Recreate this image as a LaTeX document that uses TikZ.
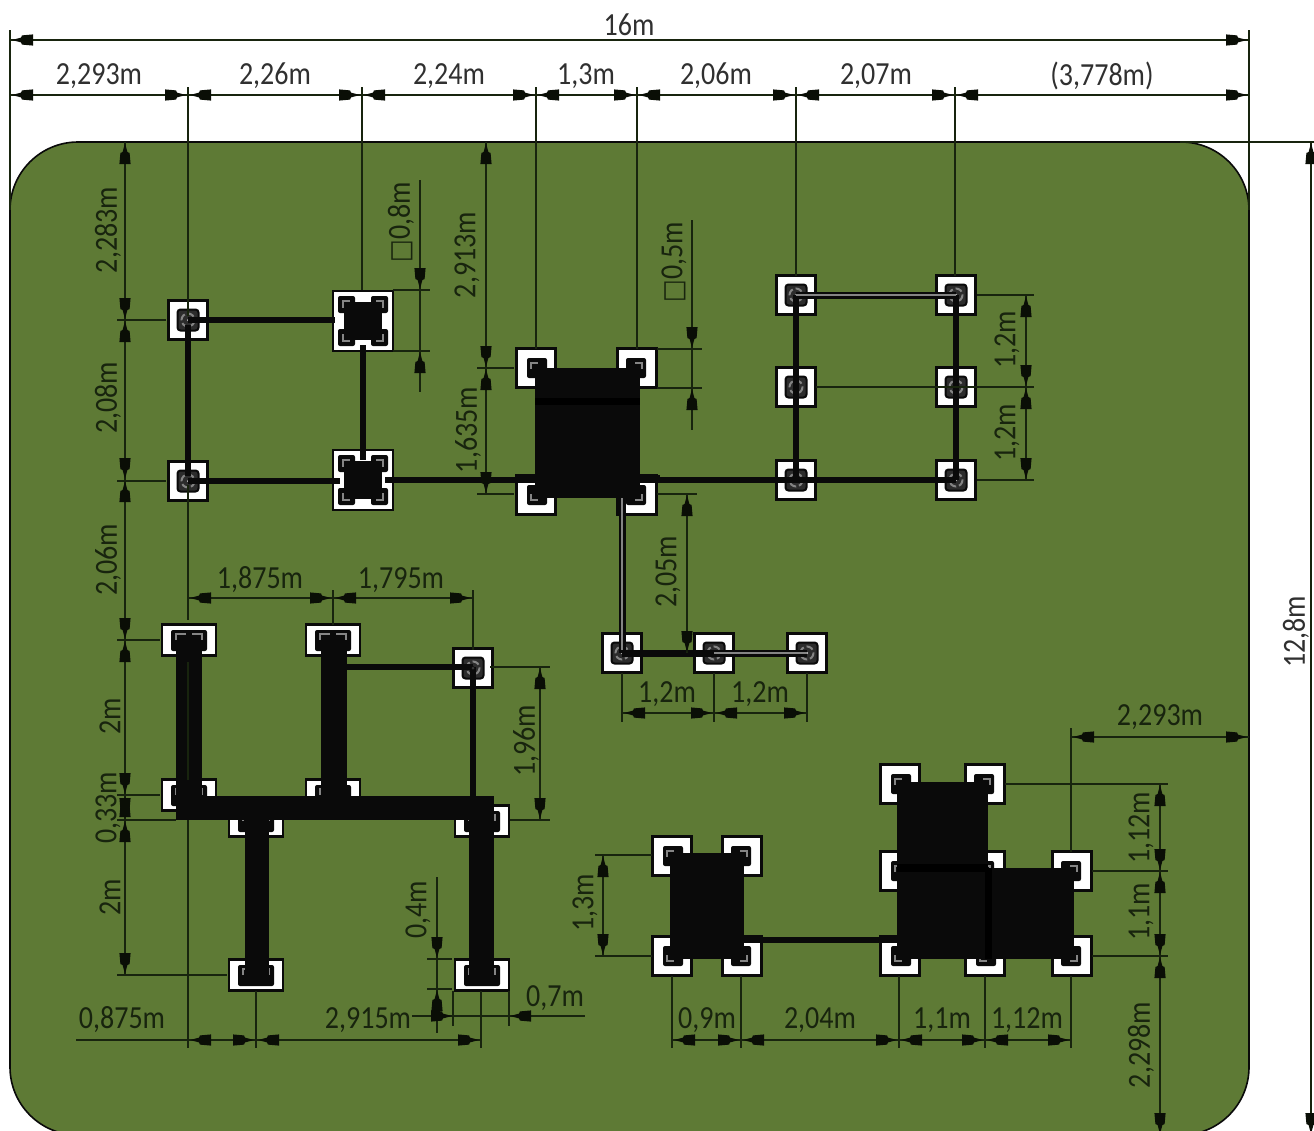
\documentclass[tikz,border=0pt]{standalone}
\usepackage{fontspec}
\setmainfont{Carlito}
\newfontfamily\symf{DejaVu Sans}
\definecolor{board}{HTML}{5E7A35}
\definecolor{ink}{HTML}{0A0A0A}
\definecolor{dimink}{HTML}{18240E}
\definecolor{upink}{HTML}{303030}
\definecolor{brk}{HTML}{858585}
\definecolor{pin}{HTML}{2C2C2C}
\newcounter{lb}
\tikzset{
  lab/.style={inner sep=0pt,text=dimink,font=\fontsize{28}{28}\selectfont},
  labtop/.style={lab,text=upink},
  ext/.style={draw=dimink,line width=1.1pt},
  bar/.style={draw=ink,line width=6.5pt},
}
% label helpers
\newcommand{\lbl}[4][lab]{\stepcounter{lb}\node[#1] (t\thelb) at (#2,#3) {\scalebox{1}[1.15]{#4}};}
\newcommand{\lbr}[4][lab]{\stepcounter{lb}\node[#1,rotate=90] (t\thelb) at (#2,#3) {\scalebox{1}[1.15]{#4}};}
% tip: body extends along the given screen angle from the point
\newcommand{\tip}[3]{\fill[dimink!40!black,shift={(#1,#2)},rotate=#3] (0,0)--(9,-2.4)--(10,-4.6)--(21,-5.6)--(21,5.6)--(10,4.6)--(9,2.4)--cycle;}
% dimension with bodies inside the span
\newcommand{\dimh}[3]{\draw[ext] (#1,#3)--(#2,#3); \tip{#1+2}{#3}{0}\tip{#2-2}{#3}{180}}
\newcommand{\dimv}[3]{\draw[ext] (#3,#1)--(#3,#2); \tip{#3}{#1+1}{-90}\tip{#3}{#2-1}{90}}
% posts
\newcommand{\boxw}[4]{\draw[fill=white,draw=ink,line width=2.4pt] (#1,#3) rectangle (#2,#4);}
\newcommand{\post}[2]{\boxw{#1-19.5}{#1+19.5}{#2-19.5}{#2+19.5}
  \draw[ink,fill=pin,line width=2pt,rounded corners=3pt,shift={(#1,#2)}] (-10.5,-10.5) rectangle (10.5,10.5);
  \draw[brk,line width=2pt,dash pattern=on 7pt off 3pt,shift={(#1,#2)}] (0,0) circle (6.5);
  \fill[white!70!gray,shift={(#1,#2)}] (0,0) circle (1);}
% post with bracket in outward corner; sx, sy give the direction
\newcommand{\cpost}[4]{\boxw{#1-19.5}{#1+19.5}{#2-19.5}{#2+19.5}
  \begin{scope}[shift={(#1,#2)},xscale=#3,yscale=#4]
   \fill[ink,rounded corners=2pt] (-9,-10) rectangle (11,10);
   \draw[brk,line width=2pt] (-5,1)--(-5,-5)--(2,-5);
  \end{scope}}
\newcommand{\wpost}[2]{\boxw{#1-27}{#1+27}{#2-15.5}{#2+15.5}
  \begin{scope}[shift={(#1,#2)}]
   \fill[ink,rounded corners=2pt] (-18,-10) rectangle (18,11);
   \draw[brk,line width=2pt] (-13,0)--(-13,-6)--(-3,-6) (3,-6)--(13,-6)--(13,0);
  \end{scope}}
\newcommand{\bpost}[2]{\boxw{#1-30}{#1+30}{#2-30}{#2+30}
  \begin{scope}[shift={(#1,#2)}]
   \foreach \sx/\sy in {1/1,1/-1,-1/1,-1/-1}{
    \begin{scope}[xscale=\sx,yscale=\sy]
     \fill[ink,rounded corners=2pt] (8,8) rectangle (25,25);
     \draw[brk,line width=2pt] (13,20)--(20,20)--(20,13);
    \end{scope}}
   \fill[ink] (-19,-19) rectangle (19,19);
   \draw[ink,line width=5pt] (-10,-8)--(-10,8) (10,-8)--(10,8);
  \end{scope}}
\begin{document}
\begin{tikzpicture}[x=1pt,y=-1pt]
\useasboundingbox (0,0) rectangle (1314,1130);
\clip (0,0) rectangle (1314,1130);
\fill[white] (0,0) rectangle (1314,1130);
% board
\draw[fill=board,draw=ink,line width=1.6pt,rounded corners=68pt] (10,142) rectangle (1249,1135);
% posts
\post{188}{320}\post{188}{481}
\bpost{363}{321}\bpost{363}{480}
\post{796}{295}\post{796}{387}\post{796}{480}
\post{956}{295}\post{956}{387}\post{956}{480}
\post{473}{668}
\post{622}{653}\post{714}{653}\post{807}{653}
\cpost{536}{368}{1}{1}\cpost{637}{368}{-1}{1}\cpost{536}{495}{1}{-1}\cpost{637}{495}{-1}{-1}
\wpost{189}{640}\wpost{333}{640}\wpost{189}{795}\wpost{333}{795}
\wpost{256}{821}\wpost{482}{821}\wpost{256}{975}\wpost{482}{975}
\cpost{672}{856}{1}{1}\cpost{742}{856}{-1}{1}\cpost{672}{956}{1}{-1}\cpost{742}{956}{-1}{-1}
\cpost{900}{784}{1}{1}\cpost{985}{784}{-1}{1}\cpost{900}{871}{1}{1}\cpost{985}{871}{-1}{1}\cpost{1072}{871}{-1}{1}
\cpost{900}{956}{1}{-1}\cpost{985}{956}{1}{-1}\cpost{1072}{956}{-1}{-1}
% connecting bars
\draw[bar] (744,940)--(899,940);
\draw[bar] (188,320)--(335,320) (188,325)--(188,476) (363,345)--(363,460) (188,481)--(340,481) (385,480)--(536,480) (640,480)--(956,480);
\draw[bar] (796,295)--(796,480) (956,295)--(956,480);
\draw[bar,line width=7pt] (796,295)--(956,295) (622,498)--(622,653) (714,653)--(807,653);
\draw[brk,line width=1.6pt] (796,295)--(956,295) (622,498)--(622,650) (714,653)--(807,653);
\draw[bar,line width=7pt] (622,653)--(714,653);
\draw[bar] (347,667)--(473,667) (473,667)--(473,796);
\draw[ink,line width=1pt,fill=white!40!gray] (473,668) circle (1.5);
% heavy black masses
\fill[ink] (535,368) rectangle (640,498);
\fill[black] (535,398) rectangle (640,405);
\draw[bar] (516,478)--(535,478) (640,478)--(660,478);
\fill[ink] (176,640) rectangle (202,820);
\fill[ink] (321,640) rectangle (347,820);
\fill[ink] (176,796) rectangle (494,820);
\fill[ink] (245,820) rectangle (269,975);
\fill[ink] (469,820) rectangle (494,975);
\fill[ink] (670,853) rectangle (744,959);
\fill[ink] (897,782) rectangle (988,959);
\fill[ink] (988,868) rectangle (1074,959);
\fill[black] (897,864) rectangle (988,872);
\fill[black] (985,868) rectangle (992,959);
% extension lines
\draw[ext] (10,30)--(10,210) (1249,30)--(1249,210);
\draw[ext] (188,87)--(188,316) (188,485)--(188,620) (188,662)--(188,780) (188,820)--(188,1048);
\draw[ext] (362,87)--(362,290) (536,87)--(536,349) (637,87)--(637,349);
\draw[ext] (796,87)--(796,276) (955,87)--(955,276);
\draw[ext] (1180,142)--(1314,142);
\draw[ext] (117,320)--(166,320) (117,481)--(166,481) (117,640)--(160,640) (117,795)--(160,795);
\draw[ext] (117,820)--(176,820) (117,975)--(227,975);
\draw[ext] (477,368)--(514,368) (477,494)--(514,494);
\draw[ext] (393,290)--(430,290) (393,351)--(430,351);
\draw[ext] (657,349)--(702,349) (657,388)--(702,388);
\draw[ext] (977,295)--(1034,295) (816,387)--(1034,387) (977,480)--(1034,480);
\draw[ext] (657,494)--(697,494);
\draw[ext] (333,590)--(333,625) (473,590)--(473,650);
\draw[ext] (490,667)--(550,667) (510,820)--(550,820);
\draw[ext] (622,673)--(622,722) (714,673)--(714,722) (807,673)--(807,722);
\draw[ext] (1071,728)--(1071,852);
\draw[ext] (1005,784)--(1168,784) (1092,871)--(1168,871) (1092,956)--(1168,956);
\draw[ext] (595,855)--(652,855) (595,956)--(652,956);
\draw[ext] (256,991)--(256,1048) (481,991)--(481,1048);
\draw[ext] (672,976)--(672,1048) (741,976)--(741,1048) (899,976)--(899,1048) (985,976)--(985,1048) (1071,976)--(1071,1048);
\draw[ext] (427,959)--(452,959) (427,989)--(452,989);
\draw[ext] (453,991)--(453,1026) (509,991)--(509,1026);
% dimensions
\dimh{10}{1249}{40}
\dimh{10}{188}{95}\dimh{188}{362}{95}\dimh{362}{536}{95}\dimh{536}{637}{95}\dimh{637}{796}{95}\dimh{796}{955}{95}\dimh{955}{1249}{95}
\dimv{142}{320}{125}\dimv{320}{480}{125}\dimv{480}{640}{125}\dimv{640}{795}{125}\dimv{795}{820}{125}\dimv{820}{975}{125}
\dimv{142}{368}{486}\dimv{368}{494}{486}
\dimv{142}{1135}{1311}
\dimv{295}{387}{1026}\dimv{387}{480}{1026}
\dimv{494}{653}{687}
\dimh{188}{333}{598}\dimh{333}{473}{598}
\dimv{667}{820}{540}
\dimh{622}{714}{713}\dimh{714}{807}{713}
\dimh{1071}{1249}{737}
\dimv{784}{871}{1160}\dimv{871}{956}{1160}\dimv{956}{1135}{1160}
\dimv{855}{956}{603}
\dimh{188}{256}{1040}\dimh{256}{481}{1040}
\draw[ext] (76,1040)--(188,1040);
\dimh{672}{741}{1040}\dimh{741}{899}{1040}\dimh{899}{985}{1040}\dimh{985}{1071}{1040}
% outside-arrow dimensions
\draw[ext] (420,180)--(420,392); \tip{420}{289}{90}\tip{420}{352}{-90}
\draw[ext] (692,220)--(692,430); \tip{692}{348}{90}\tip{692}{389}{-90}
\draw[ext] (437,877)--(437,1033); \tip{437}{958}{90}\tip{437}{990}{-90}
\draw[ext] (412,1016)--(585,1016); \tip{452}{1016}{180}\tip{510}{1016}{0}
% labels
\lbl[labtop]{629}{25}{16m}
\lbl[labtop]{99}{76}{2,293m}\lbl[labtop]{275}{76}{2,26m}\lbl[labtop]{449}{76}{2,24m}\lbl[labtop]{586}{76}{1,3m}
\lbl[labtop]{716}{76}{2,06m}\lbl[labtop]{876}{76}{2,07m}\lbl[labtop]{1102}{76}{(3,778m)}
\lbr{108}{230}{2,283m}\lbr{108}{398}{2,08m}\lbr{108}{560}{2,06m}\lbr{110}{716}{2m}\lbr{108}{808}{0,33m}\lbr{110}{897}{2m}
\lbr{467}{255}{2,913m}\lbr{468}{430}{1,635m}
\lbr{401}{222}{{\symf\fontsize{24}{24}\selectfont □}0,8m}
\lbr{674}{262}{{\symf\fontsize{24}{24}\selectfont □}0,5m}
\lbr{1007}{340}{1,2m}\lbr{1007}{433}{1,2m}
\lbr{668}{572}{2,05m}
\lbl{260}{580}{1,875m}\lbl{401}{580}{1,795m}
\lbr{526}{741}{1,96m}
\lbl{667}{694}{1,2m}\lbl{760}{694}{1,2m}
\lbl{1160}{717}{2,293m}
\lbr{1141}{828}{1,12m}\lbr{1141}{912}{1,1m}\lbr{1141}{1045}{2,298m}
\lbr{585}{903}{1,3m}
\lbr{418}{910}{0,4m}
\lbl{122}{1020}{0,875m}\lbl{368}{1020}{2,915m}\lbl{555}{998}{0,7m}
\lbl{707}{1020}{0,9m}\lbl{820}{1020}{2,04m}\lbl{942}{1020}{1,1m}\lbl{1027}{1020}{1,12m}
\lbr[labtop]{1296}{632}{12,8m}
\end{tikzpicture}
\end{document}
